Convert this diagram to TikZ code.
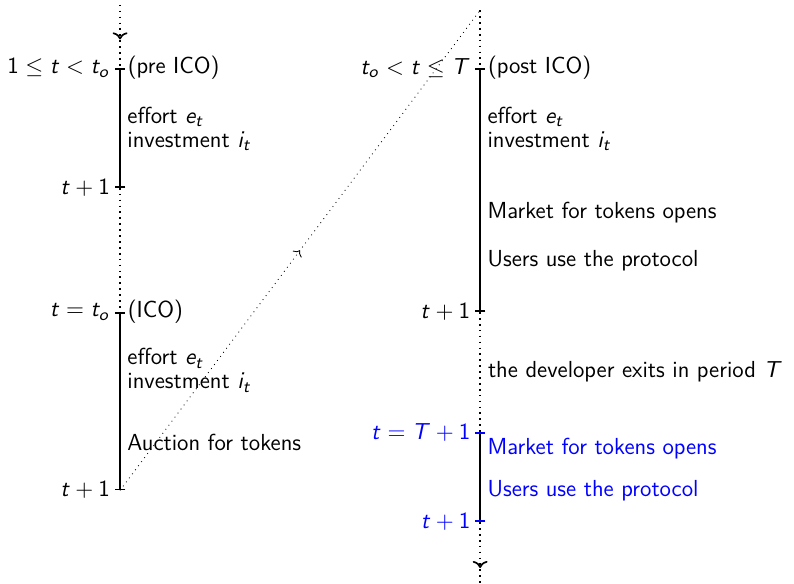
\documentclass[tikz,border=0pt]{standalone}
\usetikzlibrary{arrows.meta,decorations.markings}
\renewcommand{\familydefault}{\sfdefault}
% sans serif digits and slanted sans letters in math
\DeclareSymbolFont{sfitalic}{OT1}{cmss}{m}{sl}
\SetSymbolFont{operators}{normal}{OT1}{cmss}{m}{n}
\DeclareMathSymbol{t}{\mathalpha}{sfitalic}{`t}
\DeclareMathSymbol{o}{\mathalpha}{sfitalic}{`o}
\DeclareMathSymbol{e}{\mathalpha}{sfitalic}{`e}
\DeclareMathSymbol{i}{\mathalpha}{sfitalic}{`i}
\DeclareMathSymbol{T}{\mathalpha}{sfitalic}{`T}

\tikzset{
    period/.style={thick, {Bar[width=5pt]}-{Bar[width=5pt]}},
    gap/.style={thick, dotted},
    tlabel/.style={left, xshift=-1pt},
    midarrow/.style={postaction={decorate},
        decoration={markings, mark=at position #1 with {\arrow{>}}}},
}

\begin{document}
\begin{tikzpicture}[font=\fontsize{11}{11.4}\selectfont]
    \useasboundingbox (0,0) rectangle (13.23,-9.72);

    % before the ICO
    \coordinate (l0) at (2,-0.08);
    \coordinate (l1) at (2,-1.13);
    \coordinate (l2) at (2,-3.13);
    \coordinate (l3) at (2,-5.2);
    \coordinate (l4) at (2,-8.17);
    \draw[gap, midarrow=0.55] (l0) -- (l1);
    \draw[period] (l1) node[tlabel] {$1 \le t < t_o$} node[right] {(pre ICO)}
        -- (l2) node[tlabel] {$t+1$};
    \node[right, align=left] (pre) at (2,-2.15) {effort $e_t$\\investment $i_t$};
    \draw[gap] (l2) -- (l3);
    \draw[period] (l3) node[tlabel] {$t = t_o$} node[right] {(ICO)}
        -- (l4) node[tlabel] {$t+1$};
    \node[right, align=left] (ico) at (2,-6.17) {effort $e_t$\\investment $i_t$};
    \node[right] (auction) at (2,-7.38) {Auction for tokens};

    % after the ICO
    \coordinate (r0) at (8,-0.17);
    \coordinate (r1) at (8,-1.13);
    \coordinate (r2) at (8,-5.2);
    \coordinate (r3) at (8,-7.2);
    \coordinate (r4) at (8,-8.7);
    \coordinate (r5) at (8,-9.72);
    \draw[gap] (r0) -- (r1);
    \draw[period] (r1) node[tlabel] {$t_o < t \le T$} node[right] {(post ICO)}
        -- (r2) node[tlabel] {$t+1$};
    \node[right, align=left] (post) at (8,-2.15) {effort $e_t$\\investment $i_t$};
    \node[right] (market) at (8,-3.55) {Market for tokens opens};
    \node[right] (users) at (8,-4.35) {Users use the protocol};
    \draw[gap] (r2) -- (r3) node[midway, right] {the developer exits in period $T$};
    \draw[thick, {Bar[width=5pt,color=blue]}-{Bar[width=5pt,color=blue]}] (r3) -- (r4);
    \node[tlabel, blue] at (r3) {$t = T+1$};
    \node[tlabel, blue] at (r4) {$t+1$};
    \node[right, blue] (market2) at (8,-7.48) {Market for tokens opens};
    \node[right, blue] (users2) at (8,-8.18) {Users use the protocol};
    \draw[gap, midarrow=0.75] (r4) -- (r5);

    % jump to the next phase
    \draw[dotted, midarrow=0.5] (l4) -- (r0);
\end{tikzpicture}
\end{document}
